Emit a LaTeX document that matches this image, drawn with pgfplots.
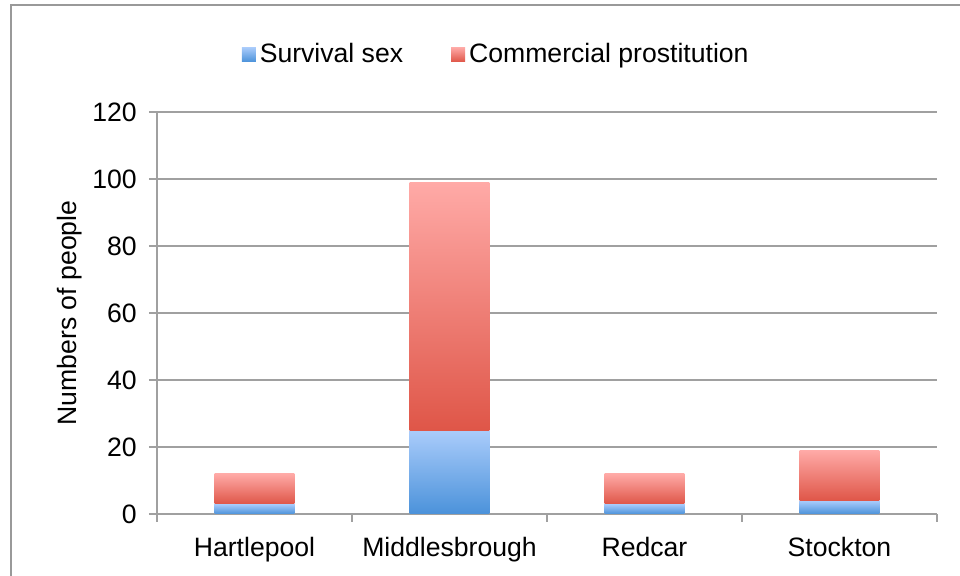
\documentclass[border=0pt]{standalone}
\usepackage{fontspec}
\setmainfont{Liberation Sans}
\usepackage{pgfplots}
\pgfplotsset{compat=1.18}
\definecolor{gridgray}{HTML}{A0A0A0}
\definecolor{framegray}{HTML}{999999}
\definecolor{bluetop}{HTML}{AACCFB}
\definecolor{bluebot}{HTML}{4B92DA}
\definecolor{redtop}{HTML}{FFAAA7}
\definecolor{redbot}{HTML}{DF5648}
\tikzset{
  bluebar/.style={draw=none, top color=bluetop, bottom color=bluebot},
  redbar/.style={draw=none, top color=redtop, bottom color=redbot},
}
\begin{document}
\fontsize{13.3}{16}\selectfont
\begin{tikzpicture}
\path[use as bounding box] (0pt,0pt) rectangle (480pt,288pt);
\draw[framegray, line width=0.9pt] (5.5pt,-10pt) rectangle (495pt,285.5pt);
\begin{axis}[
  at={(78.5pt,31pt)}, anchor=south west,
  width=390pt, height=201pt, scale only axis,
  xmin=-0.5, xmax=3.5, ymin=0, ymax=120,
  ytick={0,20,...,120},
  xtick={-0.5,0.5,1.5,2.5,3.5},
  x tick label as interval,
  xticklabels={Hartlepool,Middlesbrough,Redcar,Stockton},
  tick align=outside, major tick length=4pt,
  tick style={gridgray, line width=0.75pt},
  ymajorgrids, grid style={gridgray, line width=0.75pt},
  axis x line*=bottom, axis y line*=left,
  axis line style={gridgray, line width=0.75pt},
  /pgf/number format/assume math mode=true,
  tick label style={font=\fontsize{13.3}{16}\selectfont, black},
  xticklabel style={yshift=-3pt},
  yticklabel style={xshift=-1.5pt},
  ylabel={Numbers of people},
  ylabel style={at={(axis description cs:-0.112,0.5)}, anchor=center, font=\fontsize{13.3}{16}\selectfont},
  legend style={draw=none, fill=none, at={(axis description cs:0.1005,1.143)}, anchor=west,
    font=\fontsize{13.3}{16}\selectfont, legend columns=2,
    /tikz/every even column/.append style={column sep=22pt}},
  legend image code/.code={\path[#1] (0pt,-3.6pt) rectangle (7pt,3.6pt);},
]
% bar half-width 0.205 (bars 0.41 category units wide); values: survival / commercial
% Hartlepool: 3 / 9
\addplot[bluebar, forget plot] coordinates {(-0.205,0) (0.205,0) (0.205,3) (-0.205,3)} -- cycle;
\addplot[redbar, forget plot] coordinates {(-0.205,3) (0.205,3) (0.205,12) (-0.205,12)} -- cycle;
% Middlesbrough: 25 / 74
\addplot[bluebar, forget plot] coordinates {(0.795,0) (1.205,0) (1.205,25) (0.795,25)} -- cycle;
\addplot[redbar, forget plot] coordinates {(0.795,25) (1.205,25) (1.205,99) (0.795,99)} -- cycle;
% Redcar: 3 / 9
\addplot[bluebar, forget plot] coordinates {(1.795,0) (2.205,0) (2.205,3) (1.795,3)} -- cycle;
\addplot[redbar, forget plot] coordinates {(1.795,3) (2.205,3) (2.205,12) (1.795,12)} -- cycle;
% Stockton: 4 / 15
\addplot[bluebar, forget plot] coordinates {(2.795,0) (3.205,0) (3.205,4) (2.795,4)} -- cycle;
\addplot[redbar, forget plot] coordinates {(2.795,4) (3.205,4) (3.205,19) (2.795,19)} -- cycle;
\addlegendimage{bluebar}
\addlegendentry{Survival sex}
\addlegendimage{redbar}
\addlegendentry{Commercial prostitution}
\end{axis}
\end{tikzpicture}
\end{document}
